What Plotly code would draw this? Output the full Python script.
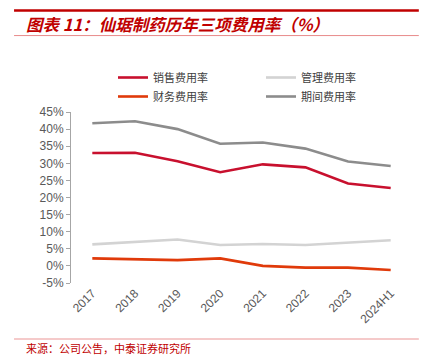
import plotly.graph_objects as go

categories = ["2017", "2018", "2019", "2020", "2021", "2022", "2023", "2024H1"]
sales_rate = [33.0, 33.1, 30.6, 27.4, 29.7, 28.8, 24.1, 22.8]
admin_rate = [6.3, 7.1, 7.7, 6.1, 6.4, 6.1, 6.7, 7.5]
finance_rate = [2.2, 2.0, 1.7, 2.2, 0.0, -0.5, -0.5, -1.2]
period_rate = [41.7, 42.3, 40.0, 35.7, 36.1, 34.3, 30.5, 29.2]
y_ticks = [-5, 0, 5, 10, 15, 20, 25, 30, 35, 40, 45]
y_tick_labels = [f"{v}%" for v in y_ticks]

title_text = "图表 11：仙琚制药历年三项费用率（%）"
source_text = "来源：公司公告，中泰证券研究所"

series = [
    ("销售费用率", sales_rate, "#C8102E"),
    ("管理费用率", admin_rate, "#D3D3D3"),
    ("财务费用率", finance_rate, "#E03A0A"),
    ("期间费用率", period_rate, "#8C8C8C"),
]

fig = go.Figure()
for name, vals, color in series:
    fig.add_trace(go.Scatter(
        x=categories, y=vals, name=name, mode="lines",
        line=dict(color=color, width=2.6),
    ))

axis_font = dict(family="Liberation Sans, Arial, sans-serif", size=12, color="#595959")

fig.update_layout(
    width=429, height=355,
    margin=dict(l=71, r=17, t=112, b=72, autoexpand=False),
    paper_bgcolor="white", plot_bgcolor="white",
    showlegend=True,
    legend=dict(
        orientation="h", xref="container", x=113 / 429, xanchor="left",
        yref="container", y=1 - 63 / 355, yanchor="top",
        entrywidth=103, tracegroupgap=0,
        font=dict(family="Noto Sans CJK SC", size=11, color="#404040"),
        bgcolor="rgba(0,0,0,0)",
    ),
    xaxis=dict(
        type="category", categoryorder="array", categoryarray=categories,
        range=[-0.5, 7.5], automargin=False,
        showline=False, ticks="", showgrid=False, zeroline=False,
        tickangle=-45, tickfont=axis_font,
    ),
    xaxis2=dict(
        overlaying="x", anchor="free", position=0.1, type="linear",
        range=[-0.5, 7.5], showline=True, linecolor="#A6A6A6", linewidth=1,
        ticks="outside", ticklen=4, tickcolor="#A6A6A6",
        tickmode="linear", tick0=-0.5, dtick=1, automargin=False,
        showticklabels=False, showgrid=False, zeroline=False,
    ),
    yaxis=dict(
        range=[-5, 45], tickvals=y_ticks, ticktext=y_tick_labels,
        showline=True, linecolor="#A6A6A6", linewidth=1, automargin=False,
        ticks="outside", ticklen=4, tickcolor="#A6A6A6",
        showgrid=False, zeroline=False, tickfont=axis_font,
    ),
    shapes=[
        dict(type="line", xref="paper", yref="paper", x0=-0.167, x1=1.02, y0=1.594, y1=1.594,
             line=dict(color="#C00000", width=2.5)),
        dict(type="line", xref="paper", yref="paper", x0=-0.167, x1=1.02, y0=1.447, y1=1.447,
             line=dict(color="#E88A8A", width=1)),
        dict(type="line", xref="paper", yref="paper", x0=-0.167, x1=1.02, y0=-0.327, y1=-0.327,
             line=dict(color="#F2B8B8", width=1.5)),
    ],
    annotations=[
        dict(text=f"<b><i>{title_text}</i></b>", xref="paper", yref="paper",
             x=-0.138, y=1.515, xanchor="left", yanchor="middle", showarrow=False,
             font=dict(family="Noto Sans CJK SC", size=16.5, color="#C00000")),
        dict(text=source_text, xref="paper", yref="paper",
             x=-0.138, y=-0.378, xanchor="left", yanchor="middle", showarrow=False,
             font=dict(family="Noto Sans CJK SC", size=11, color="#C00000")),
    ],
)

fig.write_html(
    "out.html",
    config={"displayModeBar": False},
    post_script="document.body.style.margin='0';document.body.style.padding='0';",
)
